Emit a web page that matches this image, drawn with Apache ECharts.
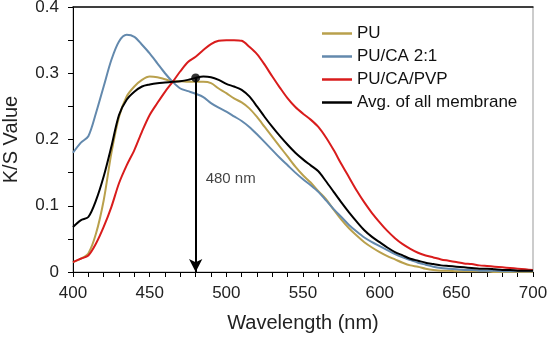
<!DOCTYPE html>
<html>
<head>
<meta charset="utf-8">
<script src="https://cdn.jsdelivr.net/npm/echarts@6/dist/echarts.min.js"></script>
<style>html,body{margin:0;padding:0;background:#fff}#c{width:547px;height:337px}</style>
</head>
<body>
<div id="c"></div>
<script>
const wavelengths = [400,405,410,415,420,425,430,435,440,445,450,455,460,465,470,475,480,485,490,495,500,505,510,515,520,525,530,535,540,545,550,555,560,565,570,575,580,585,590,595,600,605,610,615,620,625,630,635,640,645,650,655,660,665,670,675,680,685,690,695,700];
const seriesNames = ['PU','PU/CA 2:1','PU/CA/PVP','Avg. of all membrane'];
const puValues = [.015,.020,.028,.058,.108,.179,.234,.265,.280,.290,.295,.294,.291,.288,.288,.287,.287,.287,.285,.277,.270,.262,.256,.247,.234,.219,.204,.189,.174,.159,.146,.135,.122,.110,.094,.079,.066,.055,.045,.037,.030,.024,.019,.014,.010,.008,.005,.003,.002,.002,.001,.001,.001,.001,.001,.000,.000,.000,.000,.000,.000];
const puCaValues = [.180,.195,.205,.240,.280,.320,.348,.358,.355,.343,.330,.315,.300,.287,.277,.273,.269,.264,.255,.248,.242,.235,.228,.219,.208,.196,.184,.172,.161,.150,.140,.131,.121,.108,.095,.083,.071,.061,.052,.045,.039,.033,.027,.022,.018,.014,.011,.008,.006,.005,.004,.003,.003,.002,.002,.002,.001,.001,.001,.001,.001];
const puCaPvpValues = [.015,.020,.025,.043,.068,.098,.134,.161,.184,.212,.237,.255,.272,.287,.303,.317,.325,.335,.344,.349,.350,.350,.349,.340,.329,.313,.295,.278,.262,.249,.239,.230,.219,.203,.184,.163,.143,.123,.105,.089,.075,.062,.051,.042,.035,.029,.025,.022,.019,.017,.015,.013,.012,.010,.009,.008,.007,.006,.005,.004,.003];
const avgValues = [.068,.078,.083,.108,.144,.189,.237,.260,.272,.280,.283,.285,.286,.287,.288,.290,.293,.295,.294,.290,.284,.280,.275,.265,.250,.234,.219,.205,.192,.180,.170,.161,.152,.137,.121,.105,.090,.076,.063,.053,.045,.037,.030,.025,.020,.017,.014,.012,.010,.009,.008,.007,.006,.005,.005,.004,.003,.003,.002,.002,.002];
const peakWavelength = 480;
const peakValue = 0.293;
const peakLabel = '480 nm';
const peakLabelPos = [486.5, 0.140];
const xTickLabels = ['400','450','500','550','600','650','700'];
const yTickLabels = ['0','0.1','0.2','0.3','0.4'];
const colors = ['#B9A04C','#6389AD','#D91C1C','#000000'];
const valueSets = [puValues, puCaValues, puCaPvpValues, avgValues];

const FONT = 'Liberation Sans, Arial, sans-serif';
const chart = echarts.init(document.getElementById('c'), null, {renderer:'canvas'});
const lineSeries = seriesNames.map((n,i)=>({
  name:n, type:'line', symbol:'none', smooth:0.3,
  data: wavelengths.map((w,j)=>[w, valueSets[i][j]]),
  lineStyle:{color:colors[i], width:2}, itemStyle:{color:colors[i]},
  z: i===3?5:3
}));
lineSeries[3].markLine = {
  silent:true, symbol:['none','arrow'], symbolSize:[10,13],
  lineStyle:{color:'#000', width:2, type:'solid'}, label:{show:false},
  data:[[{coord:[peakWavelength,peakValue]},{coord:[peakWavelength,0]}]]
};
const option = {
  animation:false,
  textStyle:{fontFamily:FONT},
  grid:{left:73,right:14,top:7,bottom:65,show:true,borderColor:'#999',borderWidth:1,
        containLabel:false, outerBoundsMode:'none'},
  legend:{
    data:seriesNames.map(n=>({name:n, icon:'rect'})), orient:'vertical', left:317, top:20,
    itemWidth:30, itemHeight:2.5, itemGap:6,
    textStyle:{fontSize:17, color:'#111', fontFamily:FONT, lineHeight:17}
  },
  xAxis:[{
    type:'value', min:400, max:700, interval:50,
    name:'Wavelength (nm)', nameLocation:'middle', nameGap:41,
    nameTextStyle:{fontSize:20,color:'#222',fontFamily:FONT},
    axisLine:{lineStyle:{color:'#000',width:1}},
    axisTick:{show:true,inside:false,length:5,lineStyle:{color:'#000'}},
    minorTick:{show:true,splitNumber:5,length:5,lineStyle:{color:'#000'}},
    splitLine:{show:false},
    axisLabel:{fontSize:17,color:'#222',margin:13,fontFamily:FONT,
      formatter:v=>{const i=xTickLabels.indexOf(String(v));return i>=0?xTickLabels[i]:'';}}
  },{
    type:'value', position:'top', min:400, max:700,
    axisLine:{show:true,lineStyle:{color:'#111',width:1.5}},
    axisTick:{show:false}, axisLabel:{show:false}, splitLine:{show:false}
  }],
  yAxis:{
    type:'value', min:0, max:0.4, interval:0.1,
    name:'K/S Value', nameLocation:'middle', nameGap:52,
    nameTextStyle:{fontSize:20,color:'#222',fontFamily:FONT},
    axisLine:{show:true,lineStyle:{color:'#000',width:1}},
    axisTick:{show:true,inside:false,length:5,lineStyle:{color:'#000'}},
    minorTick:{show:true,splitNumber:2,length:5,lineStyle:{color:'#000'}},
    splitLine:{show:false},
    axisLabel:{fontSize:17,color:'#222',margin:14,fontFamily:FONT,
      formatter:v=>yTickLabels[Math.round(v*10)]}
  },
  series: lineSeries.concat([
    {type:'scatter', data:[[peakWavelength,peakValue]], symbolSize:9,
     itemStyle:{color:'#000'}, z:10, silent:true},
    {type:'scatter', data:[peakLabelPos], symbolSize:0, silent:true,
     label:{show:true, position:'right', distance:0, formatter:peakLabel,
       fontSize:15, color:'#111', fontFamily:FONT}}
  ])
};
chart.setOption(option);
</script>
</body>
</html>
